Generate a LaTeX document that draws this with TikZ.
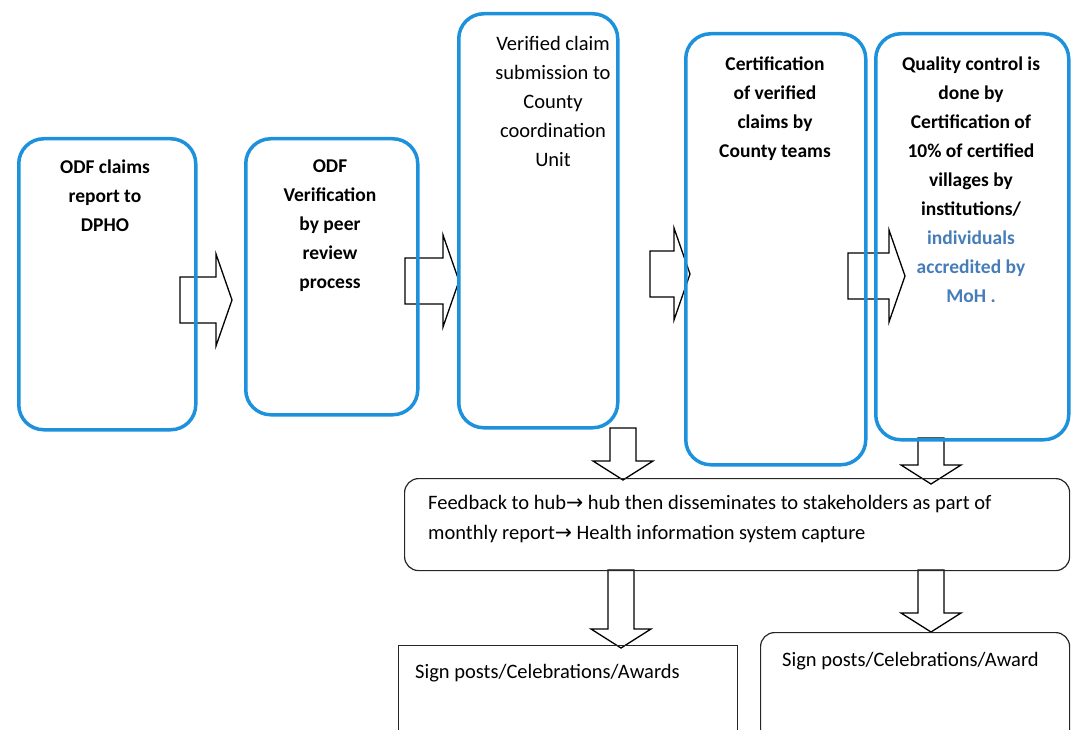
\documentclass[tikz,border=0pt]{standalone}
\usepackage{fontspec}
\setmainfont{Carlito}
\newfontfamily\arrowfont{DejaVu Sans}
\definecolor{boxblue}{RGB}{30,145,220}
\definecolor{noteblue}{RGB}{70,125,185}
\tikzset{
  stage/.style={draw=boxblue, line width=3.5pt, rounded corners=25pt, anchor=north west, inner sep=0pt},
  stagetext/.style={anchor=north, align=center, inner sep=0pt, font=\fontsize{19.5}{29}\selectfont\bfseries},
  infobox/.style={draw=black!85, line width=1.2pt, anchor=north west, inner sep=0pt},
  infotext/.style={anchor=north west, align=left, inner sep=0pt, font=\fontsize{20.5}{30}\selectfont},
  blockline/.style={draw=black, fill=white, line width=1.3pt, line join=miter},
  % block arrow to the right, #1 = length
  pics/rightblock/.style={code={
    \draw[blockline] (0,-23) -- (#1-16,-23) -- (#1-16,-46) -- (#1,0) -- (#1-16,46) -- (#1-16,23) -- (0,23) -- cycle;}},
  % block arrow downwards, #1 = length
  pics/downblock/.style={code={
    \draw[blockline] (-13,0) -- (-13,#1-19) -- (-30,#1-19) -- (0,#1) -- (30,#1-19) -- (13,#1-19) -- (13,0) -- cycle;}},
}
\begin{document}
\begin{tikzpicture}[x=1pt,y=-1pt]
  \useasboundingbox (0,0) rectangle (1071,730);
  \clip (0,0) rectangle (1071,730);
  % block arrows between the stages
  \pic at (180,300) {rightblock=52};
  \pic at (405,281) {rightblock=54};
  \pic at (650,274) {rightblock=40};
  \pic at (848,276) {rightblock=57};
  \pic at (623,428) {downblock=52};
  \pic at (931,438) {downblock=46};
  \pic at (621,570) {downblock=78};
  \pic at (931,570) {downblock=62};
  % stages
  \node[stage, minimum width=177, minimum height=291] (claims) at (17,137) {};
  \node[stage, minimum width=172, minimum height=276] (peer) at (244,137) {};
  \node[stage, minimum width=159, minimum height=414] (submit) at (457,12) {};
  \node[stage, minimum width=180, minimum height=431] (certify) at (684,32) {};
  \node[stage, minimum width=193, minimum height=406] (quality) at (874,32) {};
  \node[stagetext] (claimsT) at (105,160) {ODF claims\\report to\\DPHO};
  \node[stagetext] (peerT) at (330,160) {ODF\\Verification\\by peer\\review\\process};
  \node[stagetext, font=\fontsize{20.5}{29}\selectfont] (submitT) at (553,36) {Verified claim\\submission to\\County\\coordination\\Unit};
  \node[stagetext] (certifyT) at (775,57) {Certification\\of verified\\claims by\\County teams};
  \node[stagetext] (qualityT) at (971,57) {Quality control is\\done by\\Certification of\\10\% of certified\\villages by\\institutions/\\\textcolor{noteblue}{individuals}\\\textcolor{noteblue}{accredited by}\\\textcolor{noteblue}{MoH .}};
  % feedback and outcomes
  \node[infobox, rounded corners=14pt, minimum width=665, minimum height=92] (feedback) at (404,478) {};
  \node[infotext] (feedbackT) at (428,495) {Feedback to hub{\arrowfont →} hub then disseminates to stakeholders as part of\\monthly report{\arrowfont →} Health information system capture};
  \node[infobox, minimum width=339, minimum height=100] (signL) at (398,645) {};
  \node[infobox, rounded corners=14pt, minimum width=309, minimum height=115] (signR) at (760,632) {};
  \node[infotext] (signLT) at (415,664) {Sign posts/Celebrations/Awards};
  \node[infotext] (signRT) at (782,652) {Sign posts/Celebrations/Award};
\end{tikzpicture}
\end{document}
